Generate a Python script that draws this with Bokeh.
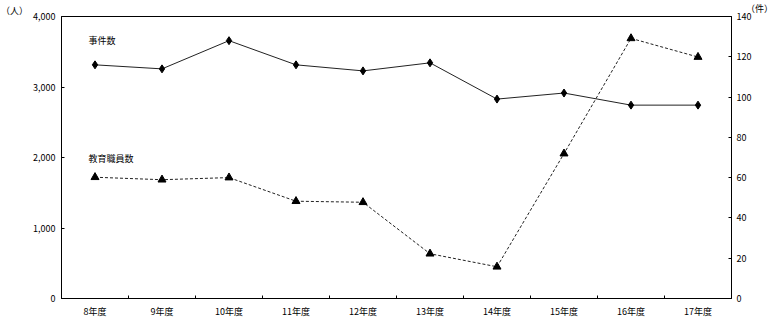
from bokeh.plotting import figure
from bokeh.layouts import column
from bokeh.models import (Range1d, LinearAxis, FixedTicker, Label, NumeralTickFormatter, Div)
from bokeh.embed import file_html
from bokeh.resources import INLINE

years = ["8年度", "9年度", "10年度", "11年度", "12年度", "13年度", "14年度", "15年度", "16年度", "17年度"]
cases = [116, 114, 128, 116, 113, 117, 99, 102, 96, 96]            # 事件数 (件, right axis)
staff = [1720, 1685, 1715, 1380, 1365, 635, 450, 2055, 3690, 3425]  # 教育職員数 (人, left axis)
left_ticks = [0, 1000, 2000, 3000, 4000]
right_ticks = [0, 20, 40, 60, 80, 100, 120, 140]
unit_left = "（人）"
unit_right = "（件）"

FONT = "Noto Sans CJK JP"
FS = "9px"

xs = [i + 0.5 for i in range(len(years))]

TOP = 10
p = figure(width=780, height=322 - TOP, output_backend="svg", toolbar_location=None,
           x_range=Range1d(0, len(years)), y_range=Range1d(0, 4000),
           min_border_left=61, min_border_right=49, min_border_top=16 - TOP, min_border_bottom=24)
p.extra_y_ranges = {"right": Range1d(0, 140)}
p.grid.visible = False
p.outline_line_color = "black"
p.outline_line_width = 1
p.background_fill_color = "white"
p.border_fill_alpha = 0

# x axis
xa = p.xaxis[0]
xa.ticker = FixedTicker(ticks=xs, minor_ticks=list(range(1, len(years))))
xa.major_label_overrides = {x: y for x, y in zip(xs, years)}
xa.major_tick_in = 0
xa.major_tick_out = 0
xa.minor_tick_in = 3
xa.minor_tick_out = 0
xa.axis_line_color = "black"
xa.major_label_text_font = FONT
xa.major_label_text_font_size = FS
xa.major_label_text_color = "black"
xa.major_label_standoff = 6

# left axis
ya = p.yaxis[0]
ya.ticker = FixedTicker(ticks=left_ticks)
ya.formatter = NumeralTickFormatter(format="0,0")
ya.major_tick_in = 3
ya.major_tick_out = 0
ya.minor_tick_line_color = None
ya.axis_line_color = "black"
ya.major_label_text_font = FONT
ya.major_label_text_font_size = FS
ya.major_label_text_color = "black"
ya.major_label_standoff = 6

# right axis
ra = LinearAxis(y_range_name="right", ticker=FixedTicker(ticks=right_ticks))
ra.major_tick_in = 3
ra.major_tick_out = 0
ra.minor_tick_line_color = None
ra.axis_line_color = "black"
ra.major_label_text_font = FONT
ra.major_label_text_font_size = FS
ra.major_label_text_color = "black"
ra.major_label_standoff = 5
p.add_layout(ra, "right")

# series
p.line(xs, cases, y_range_name="right", line_color="#222222", line_width=1)
p.scatter(xs, cases, y_range_name="right", marker="diamond", size=8,
          fill_color="black", line_color="black")
p.line(xs, staff, line_color="#222222", line_width=1, line_dash="3 2")
p.scatter(xs, staff, marker="triangle", size=8, fill_color="black", line_color="black")

# series labels (screen x is measured from the frame's left edge)
def lab(x, y, text, **kw):
    p.add_layout(Label(x=x, y=y, text=text, text_font=FONT, text_font_size=FS,
                       text_color="black", text_baseline="middle", **kw))

lab(27, 3660, "事件数", x_units="screen")
lab(27, 1985, "教育職員数", x_units="screen")

# unit labels above the plot
div = Div(
    text=(f'<div style="position:relative;width:780px;height:{TOP}px;font-family:\'{FONT}\';'
          f'font-size:{FS};color:black;line-height:1;">'
          f'<span style="position:absolute;left:1px;top:4px;white-space:nowrap">{unit_left}</span>'
          f'<span style="position:absolute;left:746px;top:2px;white-space:nowrap">{unit_right}</span>'
          '</div>'),
    width=780, height=TOP, styles={"overflow": "visible", "margin": "0", "padding": "0"})

layout = column(div, p, spacing=0)
open("out.html", "w").write(file_html(layout, INLINE))
